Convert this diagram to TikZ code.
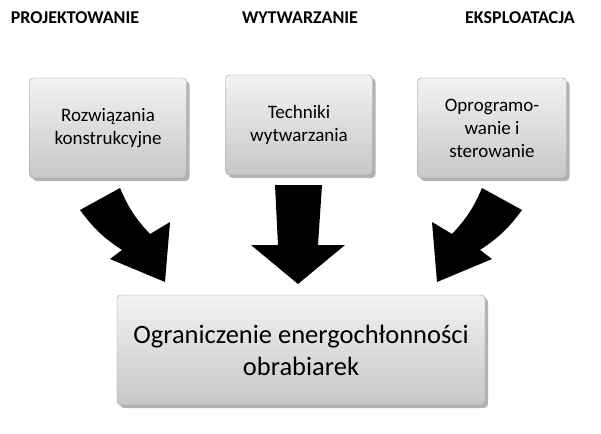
\documentclass[tikz,border=0pt]{standalone}
\usepackage{fontspec}
\setmainfont{Carlito}
\usetikzlibrary{shadows}
\begin{document}
\begin{tikzpicture}[x=1pt,y=-1pt]
\tikzstyle{head}=[font=\bfseries\fontsize{18}{20}\selectfont]
\tikzstyle{box}=[rounded corners=4pt, draw=black!40, top color=white!95!black, bottom color=black!22,
  drop shadow={shadow xshift=3pt,shadow yshift=-3pt,opacity=0.6}, align=center]
\tikzstyle{small}=[box, font=\fontsize{19}{23}\selectfont]
\tikzstyle{block}=[fill=black]
\useasboundingbox (0,0) rectangle (601,433);
  \node[head] (h1) at (75,18) {PROJEKTOWANIE};
  \node[head] (h2) at (300,18) {WYTWARZANIE};
  \node[head] (h3) at (520,18) {EKSPLOATACJA};
  \node[small, minimum width=157pt, minimum height=100pt] (b1) at (108,128) {Rozwiązania\\konstrukcyjne};
  \node[small, minimum width=147pt, minimum height=100pt] (b2) at (299,125) {Techniki\\wytwarzania};
  \node[small, minimum width=149pt, minimum height=100pt] (b3) at (492,128) {Oprogramo-\\wanie i\\sterowanie};
  \node[box, minimum width=368pt, minimum height=110pt, font=\fontsize{26.5}{32}\selectfont] (main) at (301,350)
    {Ograniczenie energochłonności\\obrabiarek};
  % arrows
  \fill[block] (80,210) to[bend right=10] (122,250) -- (110,259) -- (165,282) -- (170,222)
    -- (150,234) to[bend left=10] (120,188) -- cycle;
  \fill[block] (522,210) to[bend left=10] (480,250) -- (492,259) -- (437,282) -- (432,222)
    -- (452,234) to[bend right=10] (482,188) -- cycle;
  \fill[block] (275,185) -- (322,185) -- (318,245) -- (345,245) -- (298,284) -- (251,245)
    -- (278,245) -- cycle;
\end{tikzpicture}
\end{document}
